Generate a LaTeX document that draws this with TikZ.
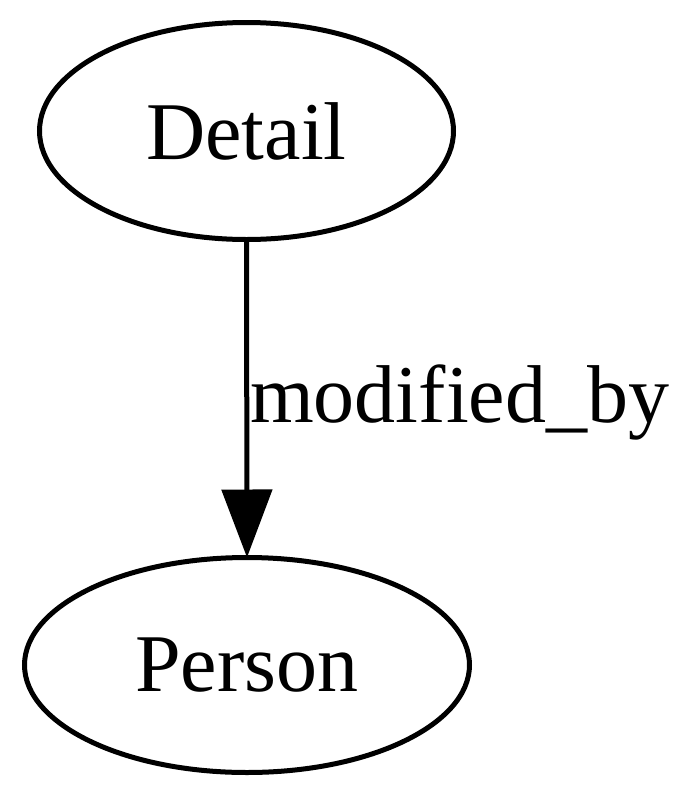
\documentclass[tikz,border=0pt]{standalone}
\usepackage{fontspec}
\setmainfont{Liberation Serif}
\usetikzlibrary{arrows.meta,shapes.geometric}
\begin{document}
\begin{tikzpicture}[x=1pt,y=-1pt,
  ent/.style={draw,line width=5pt,ellipse,inner sep=0pt,outer sep=0pt,font=\fontsize{82}{90}\selectfont},
  rel/.style={line width=5pt,-{Triangle[length=68pt,width=50pt]}},
  lbl/.style={font=\fontsize{82}{90}\selectfont,inner sep=0pt}]
\useasboundingbox (0,0) rectangle (700,796);
\node[ent,minimum width=414pt,minimum height=217pt] (detail) at (246.5,131) {Detail};
\node[ent,minimum width=445pt,minimum height=215pt] (person) at (247,665) {Person};
\draw[rel] (detail.south) -- (person.north);
\node[lbl,anchor=base west] (l) at (250,422) {modified\_by};
\end{tikzpicture}
\end{document}
